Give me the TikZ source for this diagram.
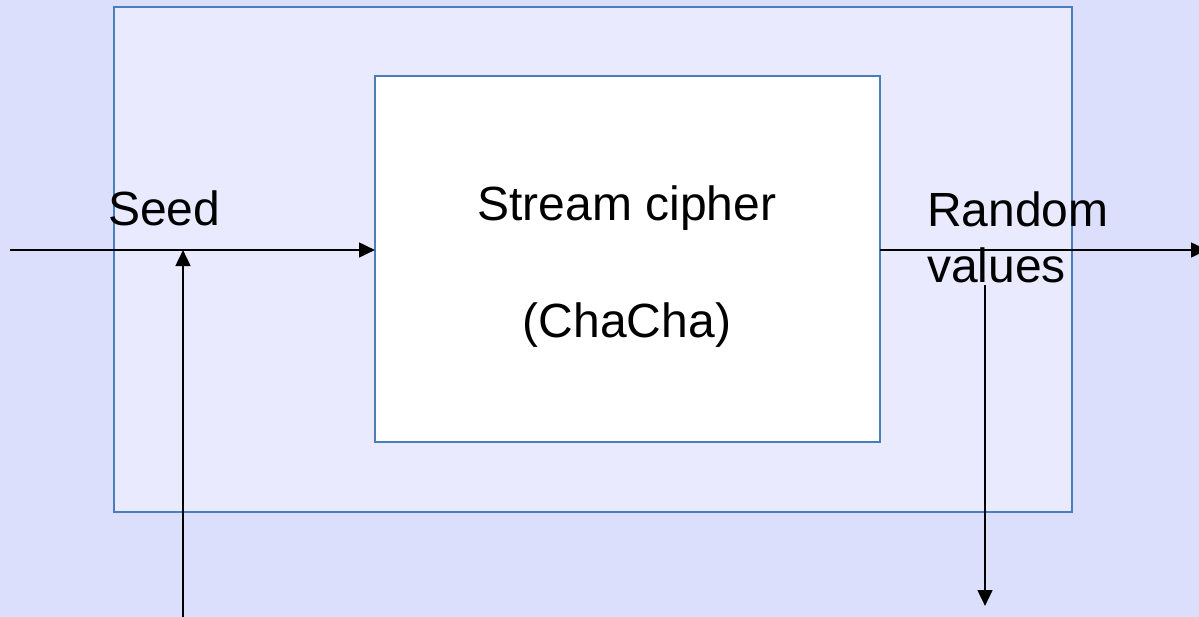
\documentclass[tikz,border=0pt]{standalone}
\usepackage{fontspec}
\setmainfont{Liberation Sans}
\usetikzlibrary{arrows.meta}
\definecolor{pagebg}{HTML}{DCDFFC}
\definecolor{outerfill}{HTML}{E9EAFD}
\definecolor{boxline}{HTML}{4A7EBB}
\tikzset{
  panel/.style={draw=boxline, line width=1.6pt, inner sep=0pt, outer sep=0pt},
  flow/.style={line width=2pt, -{Triangle[length=12pt,width=11pt]}},
  lbl/.style={font=\fontsize{36}{44}\selectfont, inner sep=0pt, anchor=base west},
}
\begin{document}
\begin{tikzpicture}[x=0.75pt, y=-0.75pt]
  % page background and fixed frame
  \fill[pagebg] (0,0) rectangle (1199,617);
  \useasboundingbox (0,0) rectangle (1199,617);

  % generator enclosure and cipher block
  \node[panel, fill=outerfill, minimum width=958*0.75pt, minimum height=505*0.75pt, anchor=north west] (gen) at (114,7) {};
  \node[panel, fill=white, minimum width=505*0.75pt, minimum height=366*0.75pt, anchor=north west] (cipher) at (375,76) {};
  \node[lbl, anchor=base] (title) at (627,220) {Stream cipher};
  \node[lbl, anchor=base] (algo) at (627,337) {(ChaCha)};

  % labels
  \node[lbl] (seed) at (108,225) {Seed};
  \node[lbl] (rand) at (927,226) {Random};
  \node[lbl] (vals) at (927,282) {values};

  % endpoints
  \coordinate (in) at (10,250);
  \coordinate (out) at (1207,250);
  \coordinate (reseed) at (183,620);
  \coordinate (tap) at (985,285);
  \coordinate (tapend) at (985,606);

  % connectors
  \draw[flow] (in) -- (in -| cipher.west);
  \draw[flow] (out -| cipher.east) -- (out);
  \draw[flow] (reseed) -- (reseed |- in);
  \draw[flow] (tap) -- (tapend);
\end{tikzpicture}
\end{document}
